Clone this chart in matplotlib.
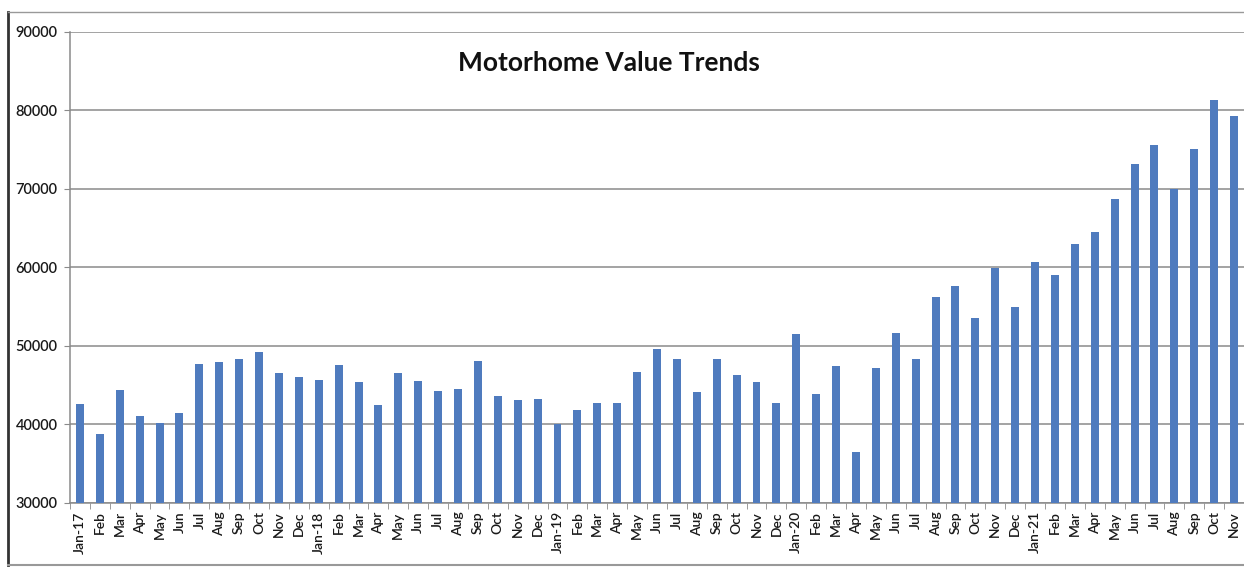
import numpy as np
import matplotlib.pyplot as plt
from matplotlib.lines import Line2D

months = ["Jan-17", "Feb", "Mar", "Apr", "May", "Jun", "Jul", "Aug", "Sep", "Oct", "Nov", "Dec",
          "Jan-18", "Feb", "Mar", "Apr", "May", "Jun", "Jul", "Aug", "Sep", "Oct", "Nov", "Dec",
          "Jan-19", "Feb", "Mar", "Apr", "May", "Jun", "Jul", "Aug", "Sep", "Oct", "Nov", "Dec",
          "Jan-20", "Feb", "Mar", "Apr", "May", "Jun", "Jul", "Aug", "Sep", "Oct", "Nov", "Dec",
          "Jan-21", "Feb", "Mar", "Apr", "May", "Jun", "Jul", "Aug", "Sep", "Oct", "Nov"]

values = [42600, 38800, 44400, 41050, 40250, 41500, 47700, 48000, 48400, 49200, 46600, 46100,
          45700, 47600, 45400, 42500, 46500, 45500, 44300, 44500, 48100, 43600, 43100, 43300,
          40100, 41800, 42700, 42800, 46700, 49600, 48400, 44200, 48300, 46300, 45400, 42700,
          51500, 43900, 47500, 36500, 47200, 51600, 48400, 56200, 57600, 53600, 60000, 55000,
          60700, 59000, 63000, 64500, 68700, 73200, 75600, 70000, 75100, 81400, 79300]

y_ticks = [30000, 40000, 50000, 60000, 70000, 80000, 90000]

plt.rcParams['font.family'] = ['Lato', 'DejaVu Sans']

fig = plt.figure(figsize=(12.44, 5.68), dpi=100)
ax = fig.add_axes([70 / 1244, 1 - 503 / 568, 1 - 70 / 1244, (503 - 32) / 568])

x = np.arange(len(values))
ax.bar(x, np.array(values) - 30000, bottom=30000, width=0.4, color='#4F7BBE', zorder=3)

ax.set_xlim(-0.5, len(values) - 0.5)
ax.set_ylim(30000, 90000)
ax.set_yticks(y_ticks)
ax.set_yticklabels([str(v) for v in y_ticks], fontsize=10.5, color='#1a1a1a', fontweight='semibold')
ax.yaxis.grid(True, color='#8a8a8a', linewidth=1.1, zorder=0)

ax.set_xticks(x)
ax.set_xticklabels(months, rotation=90, fontsize=10, color='#1a1a1a', fontweight='semibold')
ax.set_xticks(np.arange(len(values) + 1) - 0.5, minor=True)
ax.tick_params(axis='x', which='major', length=0, pad=6)
ax.tick_params(axis='x', which='minor', length=4, color='#8a8a8a')
ax.tick_params(axis='y', length=4, color='#8a8a8a', pad=5)

for side in ['top', 'right']:
    ax.spines[side].set_visible(False)
for side in ['left', 'bottom']:
    ax.spines[side].set_color('#8a8a8a')
    ax.spines[side].set_linewidth(1.1)

fig.text(609 / 1244, 1 - 63 / 568, "Motorhome Value Trends", fontsize=19, fontweight='bold',
         ha='center', va='center', color='#111111')

# outer chart frame
fig.add_artist(Line2D([8 / 1244, 8 / 1244], [1 - 12 / 568, 1 - 565 / 568], color='#333333', linewidth=2))
fig.add_artist(Line2D([8 / 1244, 1], [1 - 12 / 568, 1 - 12 / 568], color='#999999', linewidth=1))
fig.add_artist(Line2D([8 / 1244, 1], [1 - 565 / 568, 1 - 565 / 568], color='#999999', linewidth=1.5))

fig.savefig("out.png", dpi=100)
